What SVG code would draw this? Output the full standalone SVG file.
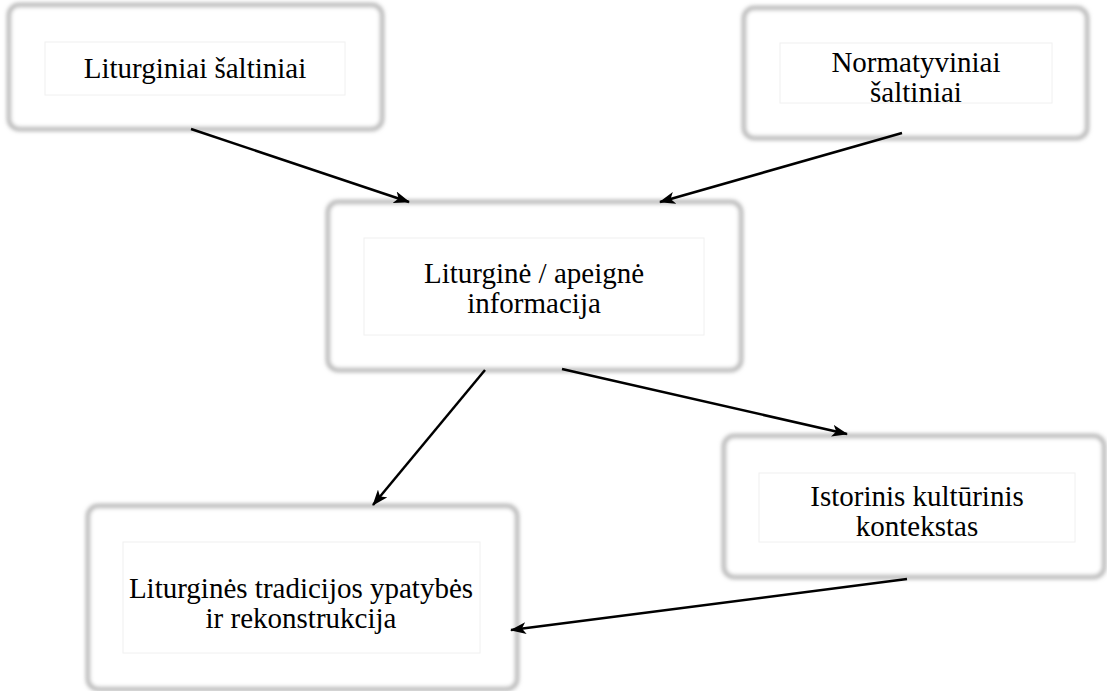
<svg xmlns="http://www.w3.org/2000/svg" width="1107" height="691" viewBox="0 0 1107 691">
<defs>
<style>
.box{fill:#fff;stroke:#a0a0a0;stroke-width:3.5;filter:url(#blur)}
.inner{fill:#fff;stroke:#f0f0f0;stroke-width:1}
text{font-family:'Liberation Serif','Times New Roman',Times,serif;font-size:29px;fill:#000;text-anchor:middle}
.c{stroke:#000;stroke-width:2.5;fill:none;marker-end:url(#ah)}
</style>
<filter id="blur" x="-5%" y="-10%" width="110%" height="120%"><feGaussianBlur stdDeviation="2"/></filter>
<marker id="ah" viewBox="0 0 16 12" refX="15" refY="6" markerWidth="16" markerHeight="12" markerUnits="userSpaceOnUse" orient="auto">
<path d="M0,0 L16,6 L0,12 L4,6 Z" fill="#000"/>
</marker>
</defs>
<rect width="1107" height="691" fill="#fff"/>
<g id="n1">
<rect class="box" x="9" y="5" width="373" height="124" rx="10"/>
<rect class="inner" x="45" y="42" width="300" height="53"/>
<text font-family="Liberation Serif, serif" x="195" y="78">Liturginiai šaltiniai</text>
</g>
<g id="n2">
<rect class="box" x="744" y="8" width="343" height="130" rx="10"/>
<rect class="inner" x="780" y="43" width="272" height="60"/>
<text font-family="Liberation Serif, serif" x="916" y="72">Normatyviniai</text>
<text font-family="Liberation Serif, serif" x="916" y="102">šaltiniai</text>
</g>
<g id="n3">
<rect class="box" x="328" y="202" width="413" height="168" rx="10"/>
<rect class="inner" x="364" y="238" width="340" height="97"/>
<text font-family="Liberation Serif, serif" x="534" y="283">Liturginė / apeignė</text>
<text font-family="Liberation Serif, serif" x="534" y="313">informacija</text>
</g>
<g id="n4">
<rect class="box" x="88" y="506" width="429" height="183" rx="10"/>
<rect class="inner" x="123" y="542" width="357" height="111"/>
<text font-family="Liberation Serif, serif" x="301" y="598">Liturginės tradicijos ypatybės</text>
<text font-family="Liberation Serif, serif" x="301" y="628">ir rekonstrukcija</text>
</g>
<g id="n5">
<rect class="box" x="724" y="436" width="380" height="141" rx="10"/>
<rect class="inner" x="759" y="473" width="316" height="69"/>
<text font-family="Liberation Serif, serif" x="917" y="506">Istorinis kultūrinis</text>
<text font-family="Liberation Serif, serif" x="917" y="536">kontekstas</text>
</g>
<g id="connectors">
<line class="c" x1="191" y1="129" x2="409" y2="202"/>
<line class="c" x1="902" y1="133" x2="660" y2="202"/>
<line class="c" x1="485" y1="370" x2="373" y2="505"/>
<line class="c" x1="562" y1="369" x2="847" y2="434"/>
<line class="c" x1="907" y1="579" x2="511" y2="630"/>
</g>
</svg>
